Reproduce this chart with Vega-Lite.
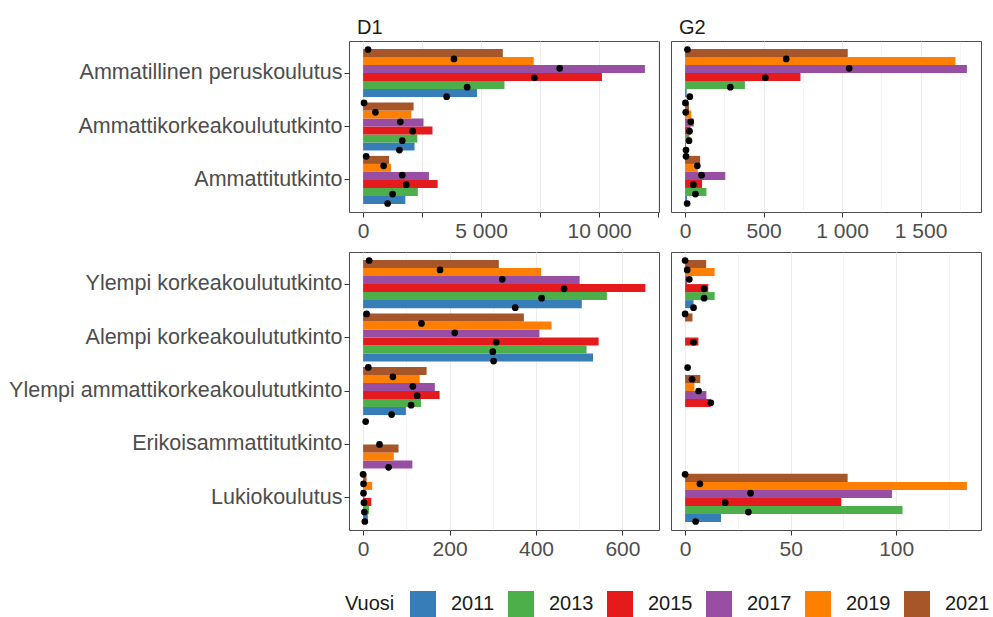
{
  "$schema": "https://vega.github.io/schema/vega-lite/v6.json",
  "padding": {"left": 8, "top": 17, "right": 9, "bottom": 0},
  "background": "white",
  "data": {"values": [
    {"k":"D1","r":"A","t":"Ammatillinen peruskoulutus","v":"2011","b":4830,"p":3540},
    {"k":"D1","r":"A","t":"Ammatillinen peruskoulutus","v":"2013","b":5990,"p":4410},
    {"k":"D1","r":"A","t":"Ammatillinen peruskoulutus","v":"2015","b":10120,"p":7260},
    {"k":"D1","r":"A","t":"Ammatillinen peruskoulutus","v":"2017","b":11940,"p":8330},
    {"k":"D1","r":"A","t":"Ammatillinen peruskoulutus","v":"2019","b":7230,"p":3850},
    {"k":"D1","r":"A","t":"Ammatillinen peruskoulutus","v":"2021","b":5920,"p":210},
    {"k":"D1","r":"A","t":"Ammattikorkeakoulututkinto","v":"2011","b":2180,"p":1540},
    {"k":"D1","r":"A","t":"Ammattikorkeakoulututkinto","v":"2013","b":2300,"p":1660},
    {"k":"D1","r":"A","t":"Ammattikorkeakoulututkinto","v":"2015","b":2940,"p":2100},
    {"k":"D1","r":"A","t":"Ammattikorkeakoulututkinto","v":"2017","b":2560,"p":1580},
    {"k":"D1","r":"A","t":"Ammattikorkeakoulututkinto","v":"2019","b":2040,"p":520},
    {"k":"D1","r":"A","t":"Ammattikorkeakoulututkinto","v":"2021","b":2140,"p":40},
    {"k":"D1","r":"A","t":"Ammattitutkinto","v":"2011","b":1790,"p":1040},
    {"k":"D1","r":"A","t":"Ammattitutkinto","v":"2013","b":2320,"p":1250},
    {"k":"D1","r":"A","t":"Ammattitutkinto","v":"2015","b":3160,"p":1830},
    {"k":"D1","r":"A","t":"Ammattitutkinto","v":"2017","b":2790,"p":1660},
    {"k":"D1","r":"A","t":"Ammattitutkinto","v":"2019","b":1180,"p":870},
    {"k":"D1","r":"A","t":"Ammattitutkinto","v":"2021","b":1100,"p":130},
    {"k":"G2","r":"A","t":"Ammatillinen peruskoulutus","v":"2011","b":10,"p":30},
    {"k":"G2","r":"A","t":"Ammatillinen peruskoulutus","v":"2013","b":381,"p":288},
    {"k":"G2","r":"A","t":"Ammatillinen peruskoulutus","v":"2015","b":735,"p":511},
    {"k":"G2","r":"A","t":"Ammatillinen peruskoulutus","v":"2017","b":1795,"p":1045},
    {"k":"G2","r":"A","t":"Ammatillinen peruskoulutus","v":"2019","b":1722,"p":644},
    {"k":"G2","r":"A","t":"Ammatillinen peruskoulutus","v":"2021","b":1036,"p":15},
    {"k":"G2","r":"A","t":"Ammattikorkeakoulututkinto","v":"2011","b":6,"p":6},
    {"k":"G2","r":"A","t":"Ammattikorkeakoulututkinto","v":"2013","b":28,"p":25},
    {"k":"G2","r":"A","t":"Ammattikorkeakoulututkinto","v":"2015","b":34,"p":28},
    {"k":"G2","r":"A","t":"Ammattikorkeakoulututkinto","v":"2017","b":55,"p":36},
    {"k":"G2","r":"A","t":"Ammattikorkeakoulututkinto","v":"2019","b":40,"p":4},
    {"k":"G2","r":"A","t":"Ammattikorkeakoulututkinto","v":"2021","b":25,"p":2},
    {"k":"G2","r":"A","t":"Ammattitutkinto","v":"2011","b":12,"p":13},
    {"k":"G2","r":"A","t":"Ammattitutkinto","v":"2013","b":136,"p":66},
    {"k":"G2","r":"A","t":"Ammattitutkinto","v":"2015","b":108,"p":53},
    {"k":"G2","r":"A","t":"Ammattitutkinto","v":"2017","b":256,"p":105},
    {"k":"G2","r":"A","t":"Ammattitutkinto","v":"2019","b":80,"p":78},
    {"k":"G2","r":"A","t":"Ammattitutkinto","v":"2021","b":96,"p":6},
    {"k":"D1","r":"B","t":"Ylempi korkeakoulututkinto","v":"2011","b":506,"p":352},
    {"k":"D1","r":"B","t":"Ylempi korkeakoulututkinto","v":"2013","b":564,"p":413},
    {"k":"D1","r":"B","t":"Ylempi korkeakoulututkinto","v":"2015","b":653,"p":465},
    {"k":"D1","r":"B","t":"Ylempi korkeakoulututkinto","v":"2017","b":501,"p":322},
    {"k":"D1","r":"B","t":"Ylempi korkeakoulututkinto","v":"2019","b":412,"p":178},
    {"k":"D1","r":"B","t":"Ylempi korkeakoulututkinto","v":"2021","b":314,"p":14},
    {"k":"D1","r":"B","t":"Alempi korkeakoulututkinto","v":"2011","b":532,"p":302},
    {"k":"D1","r":"B","t":"Alempi korkeakoulututkinto","v":"2013","b":517,"p":300},
    {"k":"D1","r":"B","t":"Alempi korkeakoulututkinto","v":"2015","b":545,"p":308},
    {"k":"D1","r":"B","t":"Alempi korkeakoulututkinto","v":"2017","b":408,"p":212},
    {"k":"D1","r":"B","t":"Alempi korkeakoulututkinto","v":"2019","b":436,"p":135},
    {"k":"D1","r":"B","t":"Alempi korkeakoulututkinto","v":"2021","b":372,"p":8},
    {"k":"D1","r":"B","t":"Ylempi ammattikorkeakoulututkinto","v":"2011","b":99,"p":66},
    {"k":"D1","r":"B","t":"Ylempi ammattikorkeakoulututkinto","v":"2013","b":134,"p":111},
    {"k":"D1","r":"B","t":"Ylempi ammattikorkeakoulututkinto","v":"2015","b":177,"p":125},
    {"k":"D1","r":"B","t":"Ylempi ammattikorkeakoulututkinto","v":"2017","b":166,"p":115},
    {"k":"D1","r":"B","t":"Ylempi ammattikorkeakoulututkinto","v":"2019","b":131,"p":69},
    {"k":"D1","r":"B","t":"Ylempi ammattikorkeakoulututkinto","v":"2021","b":147,"p":12},
    {"k":"D1","r":"B","t":"Erikoisammattitutkinto","v":"2017","b":114,"p":59},
    {"k":"D1","r":"B","t":"Erikoisammattitutkinto","v":"2019","b":71,"p":38},
    {"k":"D1","r":"B","t":"Erikoisammattitutkinto","v":"2021","b":82,"p":6},
    {"k":"D1","r":"B","t":"Lukiokoulutus","v":"2011","b":11,"p":4},
    {"k":"D1","r":"B","t":"Lukiokoulutus","v":"2013","b":14,"p":3},
    {"k":"D1","r":"B","t":"Lukiokoulutus","v":"2015","b":19,"p":2},
    {"k":"D1","r":"B","t":"Lukiokoulutus","v":"2017","b":3,"p":1},
    {"k":"D1","r":"B","t":"Lukiokoulutus","v":"2019","b":21,"p":1},
    {"k":"D1","r":"B","t":"Lukiokoulutus","v":"2021","b":8,"p":0},
    {"k":"G2","r":"B","t":"Ylempi korkeakoulututkinto","v":"2011","b":4,"p":4},
    {"k":"G2","r":"B","t":"Ylempi korkeakoulututkinto","v":"2013","b":14,"p":9},
    {"k":"G2","r":"B","t":"Ylempi korkeakoulututkinto","v":"2015","b":11,"p":9},
    {"k":"G2","r":"B","t":"Ylempi korkeakoulututkinto","v":"2017","b":1,"p":2},
    {"k":"G2","r":"B","t":"Ylempi korkeakoulututkinto","v":"2019","b":14,"p":1},
    {"k":"G2","r":"B","t":"Ylempi korkeakoulututkinto","v":"2021","b":10,"p":0},
    {"k":"G2","r":"B","t":"Alempi korkeakoulututkinto","v":"2011","b":null,"p":null},
    {"k":"G2","r":"B","t":"Alempi korkeakoulututkinto","v":"2013","b":null,"p":null},
    {"k":"G2","r":"B","t":"Alempi korkeakoulututkinto","v":"2015","b":6.3,"p":4},
    {"k":"G2","r":"B","t":"Alempi korkeakoulututkinto","v":"2017","b":null,"p":null},
    {"k":"G2","r":"B","t":"Alempi korkeakoulututkinto","v":"2019","b":null,"p":null},
    {"k":"G2","r":"B","t":"Alempi korkeakoulututkinto","v":"2021","b":3.5,"p":0},
    {"k":"G2","r":"B","t":"Ylempi ammattikorkeakoulututkinto","v":"2013","b":null,"p":null},
    {"k":"G2","r":"B","t":"Ylempi ammattikorkeakoulututkinto","v":"2015","b":12.2,"p":12.2},
    {"k":"G2","r":"B","t":"Ylempi ammattikorkeakoulututkinto","v":"2017","b":10.1,"p":6.4},
    {"k":"G2","r":"B","t":"Ylempi ammattikorkeakoulututkinto","v":"2019","b":4.4,"p":3.3},
    {"k":"G2","r":"B","t":"Ylempi ammattikorkeakoulututkinto","v":"2021","b":7.2,"p":1.2},
    {"k":"G2","r":"B","t":"Lukiokoulutus","v":"2011","b":17,"p":5},
    {"k":"G2","r":"B","t":"Lukiokoulutus","v":"2013","b":103,"p":30},
    {"k":"G2","r":"B","t":"Lukiokoulutus","v":"2015","b":74,"p":19},
    {"k":"G2","r":"B","t":"Lukiokoulutus","v":"2017","b":98,"p":31},
    {"k":"G2","r":"B","t":"Lukiokoulutus","v":"2019","b":133.5,"p":7},
    {"k":"G2","r":"B","t":"Lukiokoulutus","v":"2021","b":77,"p":0}
  ]},
  "transform": [
    {"window": [{"op": "row_number", "as": "idx"}], "groupby": ["k", "t"], "sort": [{"field": "v", "order": "ascending"}]},
    {"joinaggregate": [{"op": "count", "as": "n"}], "groupby": ["k", "t"]}
  ],
  "config": {
    "font": "Liberation Sans",
    "view": {"stroke": "#4d4d4d", "strokeWidth": 1},
    "axis": {
      "domain": false,
      "gridColor": "#EBEBEB",
      "gridOpacity": 1,
      "tickColor": "#333333",
      "tickSize": 5,
      "labelFontSize": 21,
      "labelColor": "#4D4D4D",
      "labelFont": "Liberation Sans",
      "labelPadding": 3,
      "labelOverlap": false,
      "labelLimit": 0,
      "minExtent": 0
    },
    "axisY": {"labelFontSize": 21.5},
    "title": {"fontSize": 20, "fontWeight": "normal", "color": "#1A1A1A", "anchor": "start", "frame": "group", "dx": 8, "offset": 3, "font": "Liberation Sans"},
    "legend": {
      "titleOrient": "left",
      "titleFontSize": 20,
      "titleFontWeight": "normal",
      "titleColor": "#1A1A1A",
      "titleFont": "Liberation Sans",
      "titlePadding": 15,
      "labelFontSize": 20,
      "labelColor": "#1A1A1A",
      "labelFont": "Liberation Sans",
      "labelOffset": 15,
      "columnPadding": 13,
      "symbolType": "square",
      "symbolSize": 676,
      "symbolStrokeWidth": 0,
      "symbolOpacity": 1
    }
  },
  "spacing": 9,
  "vconcat": [
    {
      "spacing": 10,
      "hconcat": [
        {
          "width": 310, "height": 171,
          "title": "D1",
          "transform": [{"filter": "datum.k == 'D1' && datum.r == 'A'"}],
          "encoding": {
            "y": {"field": "t", "type": "nominal", "title": null,
              "scale": {"domain": ["Ammatillinen peruskoulutus", "Ammattikorkeakoulututkinto", "Ammattitutkinto"], "paddingInner": 0, "paddingOuter": 0.1},
              "axis": {"bandPosition": 0.5, "labelPadding": 2}}
          },
          "layer": [
            {
              "mark": {"type": "bar"},
              "encoding": {
                "x": {"field": "b", "type": "quantitative", "title": null,
                  "scale": {"domain": [-597, 12537], "nice": false, "zero": false},
                  "axis": {"values": [0, 1250, 2500, 3750, 5000, 6250, 7500, 8750, 10000, 11250, 12500],
                    "labelExpr": "datum.value % 5000 == 0 ? replace(format(datum.value, ','), ',', ' ') : ''",
                    "gridWidth": {"condition": {"test": "datum.value % 2500 != 0", "value": 0.5}, "value": 1},
                    "tickOpacity": {"condition": {"test": "datum.value % 2500 != 0", "value": 0}, "value": 1}}},
                "yOffset": {"field": "idx", "type": "ordinal", "scale": {"domain": [6, 5, 4, 3, 2, 1], "paddingInner": 0, "paddingOuter": 0.3333}},
                "color": {"field": "v", "type": "nominal", "title": "Vuosi",
                  "scale": {"domain": ["2011", "2013", "2015", "2017", "2019", "2021"], "range": ["#377EB8", "#4DAF4A", "#E41A1C", "#984EA3", "#FF7F00", "#A65628"]},
                  "legend": {"orient": "none", "direction": "horizontal", "legendX": -4, "legendY": 550}}
              }
            },
            {
              "transform": [{"filter": "datum.n == 6"}],
              "mark": {"type": "circle", "size": 45, "color": "black", "opacity": 1},
              "encoding": {
                "x": {"field": "p", "type": "quantitative", "title": null, "scale": {"domain": [-597, 12537], "nice": false, "zero": false}},
                "yOffset": {"field": "idx", "type": "ordinal", "scale": {"domain": [6, 5, 4, 3, 2, 1], "paddingInner": 0, "paddingOuter": 0.3333}}
              }
            }
          ],
          "resolve": {"scale": {"yOffset": "independent"}}
        },
        {
          "width": 310, "height": 171,
          "title": "G2",
          "transform": [{"filter": "datum.k == 'G2' && datum.r == 'A'"}],
          "encoding": {
            "y": {"field": "t", "type": "nominal", "title": null,
              "scale": {"domain": ["Ammatillinen peruskoulutus", "Ammattikorkeakoulututkinto", "Ammattitutkinto"], "paddingInner": 0, "paddingOuter": 0.1},
              "axis": {"bandPosition": 0.5, "labels": false, "ticks": false}}
          },
          "layer": [
            {
              "mark": {"type": "bar"},
              "encoding": {
                "x": {"field": "b", "type": "quantitative", "title": null,
                  "scale": {"domain": [-89.75, 1884.75], "nice": false, "zero": false},
                  "axis": {"values": [0, 250, 500, 750, 1000, 1250, 1500, 1750],
                    "labelExpr": "datum.value % 500 == 0 ? replace(format(datum.value, ','), ',', ' ') : ''",
                    "gridWidth": {"condition": {"test": "datum.value % 500 != 0", "value": 0.5}, "value": 1},
                    "tickOpacity": {"condition": {"test": "datum.value % 500 != 0", "value": 0}, "value": 1}}},
                "yOffset": {"field": "idx", "type": "ordinal", "scale": {"domain": [6, 5, 4, 3, 2, 1], "paddingInner": 0, "paddingOuter": 0.3333}},
                "color": {"field": "v", "type": "nominal", "title": "Vuosi",
                  "scale": {"domain": ["2011", "2013", "2015", "2017", "2019", "2021"], "range": ["#377EB8", "#4DAF4A", "#E41A1C", "#984EA3", "#FF7F00", "#A65628"]}}
              }
            },
            {
              "transform": [{"filter": "datum.n == 6"}],
              "mark": {"type": "circle", "size": 45, "color": "black", "opacity": 1},
              "encoding": {
                "x": {"field": "p", "type": "quantitative", "title": null, "scale": {"domain": [-89.75, 1884.75], "nice": false, "zero": false}},
                "yOffset": {"field": "idx", "type": "ordinal", "scale": {"domain": [6, 5, 4, 3, 2, 1], "paddingInner": 0, "paddingOuter": 0.3333}}
              }
            }
          ],
          "resolve": {"scale": {"yOffset": "independent"}}
        }
      ]
    },
    {
      "spacing": 10,
      "hconcat": [
        {
          "width": 310, "height": 278,
          "transform": [{"filter": "datum.k == 'D1' && datum.r == 'B'"}],
          "encoding": {
            "y": {"field": "t", "type": "nominal", "title": null,
              "scale": {"domain": ["Ylempi korkeakoulututkinto", "Alempi korkeakoulututkinto", "Ylempi ammattikorkeakoulututkinto", "Erikoisammattitutkinto", "Lukiokoulutus"], "paddingInner": 0, "paddingOuter": 0.1},
              "axis": {"bandPosition": 0.5, "labelPadding": 2}}
          },
          "layer": [
            {
              "mark": {"type": "bar"},
              "encoding": {
                "x": {"field": "b", "type": "quantitative", "title": null,
                  "scale": {"domain": [-32.6, 684.6], "nice": false, "zero": false},
                  "axis": {"values": [0, 100, 200, 300, 400, 500, 600],
                    "labelExpr": "datum.value % 200 == 0 ? datum.label : ''",
                    "gridWidth": {"condition": {"test": "datum.value % 200 != 0", "value": 0.5}, "value": 1},
                    "tickOpacity": {"condition": {"test": "datum.value % 200 != 0", "value": 0}, "value": 1}}},
                "yOffset": {"field": "idx", "type": "ordinal", "scale": {"domain": [6, 5, 4, 3, 2, 1], "paddingInner": 0, "paddingOuter": 0.3333}},
                "color": {"field": "v", "type": "nominal", "title": "Vuosi",
                  "scale": {"domain": ["2011", "2013", "2015", "2017", "2019", "2021"], "range": ["#377EB8", "#4DAF4A", "#E41A1C", "#984EA3", "#FF7F00", "#A65628"]}}
              }
            },
            {
              "transform": [{"filter": "datum.n == 6"}],
              "mark": {"type": "circle", "size": 45, "color": "black", "opacity": 1},
              "encoding": {
                "x": {"field": "p", "type": "quantitative", "title": null, "scale": {"domain": [-32.6, 684.6], "nice": false, "zero": false}},
                "yOffset": {"field": "idx", "type": "ordinal", "scale": {"domain": [6, 5, 4, 3, 2, 1], "paddingInner": 0, "paddingOuter": 0.3333}}
              }
            },
            {
              "transform": [{"filter": "datum.n == 3"}],
              "mark": {"type": "circle", "size": 45, "color": "black", "opacity": 1},
              "encoding": {
                "x": {"field": "p", "type": "quantitative", "title": null, "scale": {"domain": [-32.6, 684.6], "nice": false, "zero": false}},
                "yOffset": {"field": "idx", "type": "ordinal", "scale": {"domain": [3, 2, 1], "paddingInner": 0, "paddingOuter": 0.1667}}
              }
            }
          ],
          "resolve": {"scale": {"yOffset": "independent"}}
        },
        {
          "width": 310, "height": 278,
          "transform": [{"filter": "datum.k == 'G2' && datum.r == 'B'"}],
          "encoding": {
            "y": {"field": "t", "type": "nominal", "title": null,
              "scale": {"domain": ["Ylempi korkeakoulututkinto", "Alempi korkeakoulututkinto", "Ylempi ammattikorkeakoulututkinto", "Erikoisammattitutkinto", "Lukiokoulutus"], "paddingInner": 0, "paddingOuter": 0.1},
              "axis": {"bandPosition": 0.5, "labels": false, "ticks": false}}
          },
          "layer": [
            {
              "mark": {"type": "bar"},
              "encoding": {
                "x": {"field": "b", "type": "quantitative", "title": null,
                  "scale": {"domain": [-6.675, 140.175], "nice": false, "zero": false},
                  "axis": {"values": [0, 25, 50, 75, 100, 125],
                    "labelExpr": "datum.value % 50 == 0 ? datum.label : ''",
                    "gridWidth": {"condition": {"test": "datum.value % 50 != 0", "value": 0.5}, "value": 1},
                    "tickOpacity": {"condition": {"test": "datum.value % 50 != 0", "value": 0}, "value": 1}}},
                "yOffset": {"field": "idx", "type": "ordinal", "scale": {"domain": [6, 5, 4, 3, 2, 1], "paddingInner": 0, "paddingOuter": 0.3333}},
                "color": {"field": "v", "type": "nominal", "title": "Vuosi",
                  "scale": {"domain": ["2011", "2013", "2015", "2017", "2019", "2021"], "range": ["#377EB8", "#4DAF4A", "#E41A1C", "#984EA3", "#FF7F00", "#A65628"]}}
              }
            },
            {
              "transform": [{"filter": "datum.n == 6"}],
              "mark": {"type": "circle", "size": 45, "color": "black", "opacity": 1},
              "encoding": {
                "x": {"field": "p", "type": "quantitative", "title": null, "scale": {"domain": [-6.675, 140.175], "nice": false, "zero": false}},
                "yOffset": {"field": "idx", "type": "ordinal", "scale": {"domain": [6, 5, 4, 3, 2, 1], "paddingInner": 0, "paddingOuter": 0.3333}}
              }
            },
            {
              "transform": [{"filter": "datum.n == 5"}],
              "mark": {"type": "circle", "size": 45, "color": "black", "opacity": 1},
              "encoding": {
                "x": {"field": "p", "type": "quantitative", "title": null, "scale": {"domain": [-6.675, 140.175], "nice": false, "zero": false}},
                "yOffset": {"field": "idx", "type": "ordinal", "scale": {"domain": [5, 4, 3, 2, 1], "paddingInner": 0, "paddingOuter": 0.2778}}
              }
            }
          ],
          "resolve": {"scale": {"yOffset": "independent"}}
        }
      ]
    }
  ],
  "resolve": {"scale": {"color": "shared"}, "legend": {"color": "shared"}}
}
